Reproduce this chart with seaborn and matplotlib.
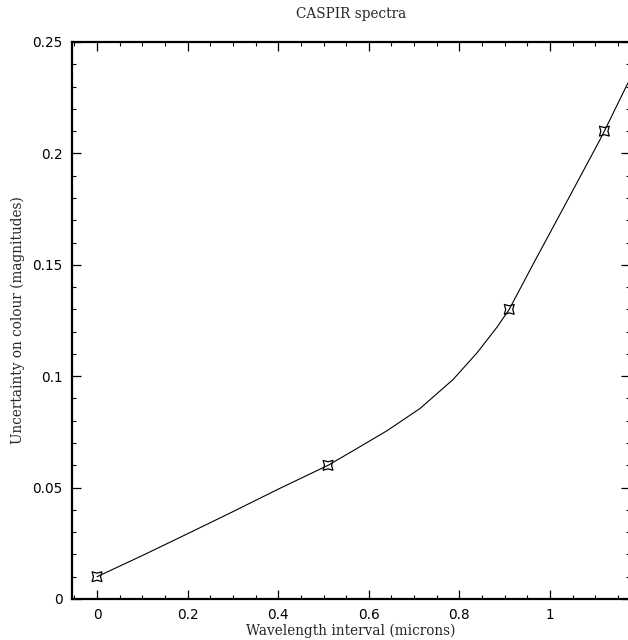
import numpy as np
import pandas as pd
import matplotlib
matplotlib.use("Agg")
import matplotlib.pyplot as plt
from matplotlib.path import Path
from matplotlib.ticker import MultipleLocator, FuncFormatter
import seaborn as sns

# Measured points
wavelength_interval = [0.0, 0.51, 0.91, 1.12]
colour_uncertainty = [0.010, 0.060, 0.130, 0.210]

# Fitted curve through the measurements
curve_x = [0.0, 0.10, 0.20, 0.30, 0.40, 0.51, 0.565, 0.640, 0.713, 0.786,
           0.839, 0.883, 0.91, 0.962, 1.038, 1.110, 1.12, 1.172]
curve_y = [0.010, 0.0195, 0.0293, 0.0392, 0.0493, 0.060, 0.0665, 0.0755,
           0.0855, 0.0985, 0.1105, 0.1220, 0.130, 0.1500, 0.1787, 0.2060,
           0.210, 0.2316]

title = "CASPIR spectra"
x_label = "Wavelength interval (microns)"
y_label = "Uncertainty on colour (magnitudes)"

sns.set_style("ticks")
plt.rcParams["font.family"] = ["DejaVu Sans"]

W, H = 628, 640
fig = plt.figure(figsize=(W / 100, H / 100), dpi=100)
left_px, right_px, top_px, bottom_px = 72, 630, 42, 599
ax = fig.add_axes([left_px / W, 1 - bottom_px / H,
                   (right_px - left_px) / W, (bottom_px - top_px) / H])

curve = pd.DataFrame({"x": curve_x, "y": curve_y})
points = pd.DataFrame({"x": wavelength_interval, "y": colour_uncertainty})

sns.lineplot(data=curve, x="x", y="y", sort=False, color="black",
             linewidth=0.8, ax=ax, estimator=None)

# square marker with concave sides
star = Path([(-1, -1), (0, -0.72), (1, -1), (0.72, 0), (1, 1), (0, 0.72),
             (-1, 1), (-0.72, 0), (-1, -1)], closed=True)
sns.scatterplot(data=points, x="x", y="y", marker=star, s=50,
                facecolor="none", edgecolor="black", linewidth=0.9,
                ax=ax, zorder=3)

ax.set_xlim(-0.0552, 1.1766)
ax.set_ylim(0, 0.25)

ax.xaxis.set_major_locator(MultipleLocator(0.2))
ax.xaxis.set_minor_locator(MultipleLocator(0.05))
ax.yaxis.set_major_locator(MultipleLocator(0.05))
ax.yaxis.set_minor_locator(MultipleLocator(0.01))
fmt = FuncFormatter(lambda v, pos: f"{round(v, 3):g}")
ax.xaxis.set_major_formatter(fmt)
ax.yaxis.set_major_formatter(fmt)

ax.tick_params(which="both", direction="in", top=True, right=True,
               colors="black", labelsize=9.8)
ax.tick_params(which="major", length=6.5, width=0.9, pad=6.5)
ax.tick_params(which="minor", length=3.2, width=0.8)

for side in ["left", "right", "top", "bottom"]:
    ax.spines[side].set_visible(True)
    ax.spines[side].set_linewidth(1.6)
    ax.spines[side].set_color("black")

ax.set_xlabel("")
ax.set_ylabel("")

serif = ["DejaVu Serif"]
cx = (left_px + right_px) / 2 / W
fig.text(cx, 1 - 14 / H, title, ha="center", va="center",
         family=serif, fontsize=9.8)
fig.text(cx, 1 - 631 / H, x_label, ha="center", va="center",
         family=serif, fontsize=9.8)
fig.text(18 / W, 1 - 320 / H, y_label, ha="center", va="center",
         rotation=90, family=serif, fontsize=9.8)

fig.savefig("out.png", dpi=100)
